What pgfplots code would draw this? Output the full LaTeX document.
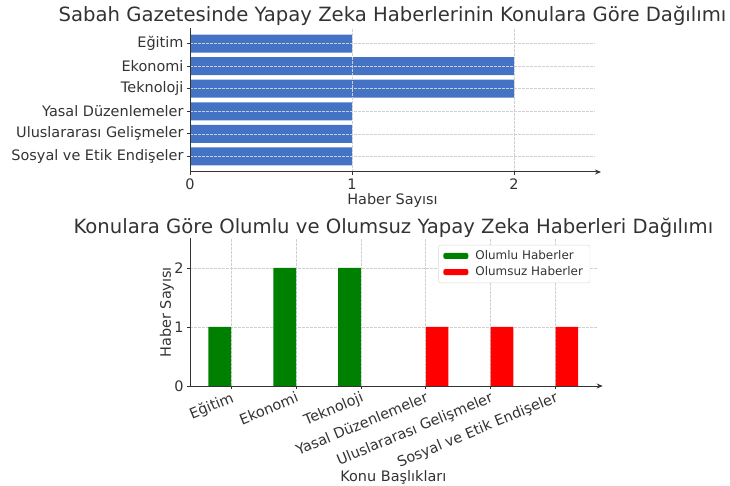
\documentclass[border=0pt]{standalone}
\usepackage{fontspec}
\setmainfont{DejaVu Sans}
\usepackage{pgfplots}
\pgfplotsset{compat=1.18}
\usetikzlibrary{arrows.meta}

\definecolor{barblue}{HTML}{4472C4}
\definecolor{mgreen}{HTML}{008000}
\definecolor{mred}{HTML}{FF0000}
\definecolor{txt}{HTML}{333333}
\definecolor{gridc}{HTML}{D0D0D0}
\definecolor{spine}{HTML}{333333}

\pgfplotsset{
  base/.style={
    scale only axis,
    axis x line=bottom, axis y line=left,
    axis line style={spine, line width=1bp},
    x axis line style={-{Stealth[length=6bp,width=5bp]}, shorten >=-6bp},
    y axis line style={-},
    tick align=outside, major tick length=3bp,
    tick style={spine, line width=0.8bp},
    tick label style={font=\fontsize{14.5}{17}\selectfont, text=txt},
    label style={font=\fontsize{14.5}{17}\selectfont, text=txt},
    title style={font=\fontsize{19.7}{22}\selectfont, text=txt},
    /pgf/number format/assume math mode=true,
    grid=major,
    grid style={gridc, dash pattern=on 2.5bp off 1.5bp, line width=0.7bp},
  }
}

\begin{document}
\begin{tikzpicture}
\useasboundingbox (0,0) rectangle (730bp,486bp);

% top: horizontal bars
\begin{axis}[base,
  at={(190bp,314bp)}, anchor=south west,
  width=405bp, height=144bp,
  xmin=0, xmax=2.5, ymin=-0.69, ymax=5.69,
  xtick={0,1,2}, ytick={0,...,5},
  yticklabels={Sosyal ve Etik Endişeler, Uluslararası Gelişmeler, Yasal Düzenlemeler, Teknoloji, Ekonomi, Eğitim},
  xlabel={Haber Sayısı},
  xlabel style={at={(axis description cs:0.5,0)}, anchor=center, yshift=-29bp},
  title={Sabah Gazetesinde Yapay Zeka Haberlerinin Konulara Göre Dağılımı},
  title style={at={(axis description cs:0.5,1)}, anchor=center, yshift=6bp},
  axis on top,
  xbar, bar width=0.8,
]
\addplot[fill=barblue, draw=none] coordinates {
  (1,5) (2,4) (2,3) (1,2) (1,1) (1,0)
};
\end{axis}

% bottom: positive vs negative
\begin{axis}[base,
  at={(190bp,100bp)}, anchor=south west,
  width=406.7bp, height=147.5bp,
  xmin=-0.635, xmax=5.635, ymin=0, ymax=2.5,
  xtick={0,...,5}, ytick={0,1,2},
  xticklabels={Eğitim, Ekonomi, Teknoloji, Yasal Düzenlemeler, Uluslararası Gelişmeler, Sosyal ve Etik Endişeler},
  x tick label style={rotate=22.5, anchor=north east, inner sep=1.5bp},
  xlabel={Konu Başlıkları},
  xlabel style={at={(axis description cs:0.5,0)}, anchor=center, yshift=-91bp},
  ylabel={Haber Sayısı},
  ylabel style={at={(axis description cs:-0.0566,0.5)}, anchor=center},
  title={Konulara Göre Olumlu ve Olumsuz Yapay Zeka Haberleri Dağılımı},
  title style={at={(axis description cs:0.5,1)}, anchor=center, yshift=5bp},
  ybar, bar width=0.35,
  legend cell align=left,
  legend style={at={(0.984,0.956)}, anchor=north east, draw=gray!30,
    rounded corners=2bp, font=\fontsize{12}{14}\selectfont, text=txt,
    inner xsep=5bp, inner ysep=3.5bp, row sep=1.5bp},
]
\addplot[fill=mgreen, draw=none, /pgf/bar shift=-0.175,
  legend image code/.code={\fill[mgreen] (0bp,-3bp) rectangle (25bp,3bp); \path (30bp,0bp);}]
  coordinates {(0,1) (1,2) (2,2)};
\addlegendentry{Olumlu Haberler}
\addplot[fill=mred, draw=none, /pgf/bar shift=0.175,
  legend image code/.code={\fill[mred] (0bp,-3bp) rectangle (25bp,3bp); \path (30bp,0bp);}]
  coordinates {(3,1) (4,1) (5,1)};
\addlegendentry{Olumsuz Haberler}
\end{axis}
\end{tikzpicture}
\end{document}
